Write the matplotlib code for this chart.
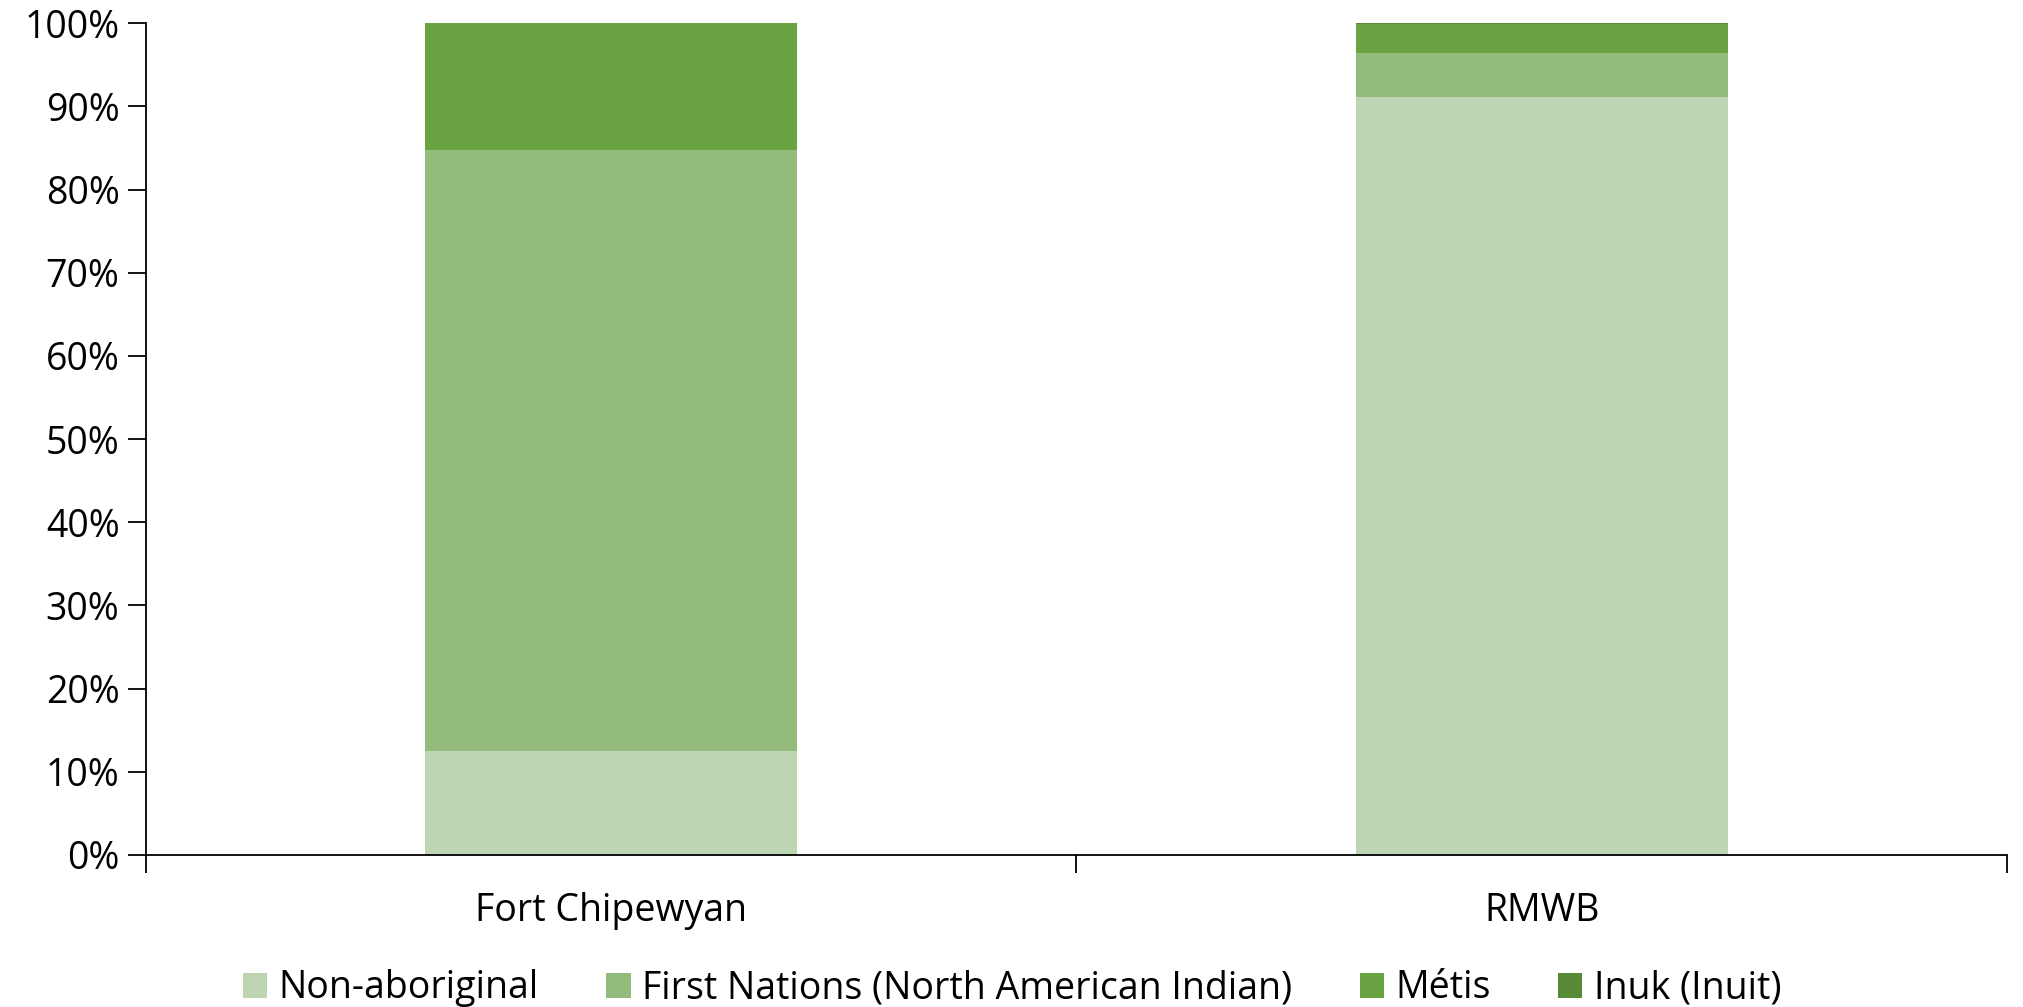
import matplotlib.pyplot as plt
import numpy as np
from matplotlib.ticker import PercentFormatter, FixedLocator

plt.rcParams['font.family'] = ['Open Sans', 'DejaVu Sans']

communities = ['Fort Chipewyan', 'RMWB']
groups = ['Non-aboriginal', 'First Nations (North American Indian)', 'Métis', 'Inuk (Inuit)']
colors = ['#bed5b3', '#93bc7c', '#69a342', '#568a37']

# share of population, percent
non_aboriginal = [12.5, 91.1]
first_nations = [72.2, 5.3]
metis = [15.3, 3.5]
inuk = [0.0, 0.1]

series = [non_aboriginal, first_nations, metis, inuk]

fig = plt.figure(figsize=(20.24, 10.07), dpi=100)
ax = fig.add_axes([0.0721, 0.151, 0.9195, 0.826])

x = np.arange(len(communities))
bottom = np.zeros(len(communities))
for vals, name, col in zip(series, groups, colors):
    ax.bar(x, vals, width=0.4, bottom=bottom, color=col, label=name)
    bottom += np.array(vals)

ax.set_xlim(-0.5, 1.5)
ax.set_ylim(0, 100)
ax.set_yticks(np.arange(0, 101, 10))
ax.yaxis.set_major_formatter(PercentFormatter(decimals=0))
ax.set_xticks(x)
ax.set_xticklabels(communities)
ax.xaxis.set_minor_locator(FixedLocator([-0.5, 0.5, 1.5]))
ax.tick_params(axis='x', which='major', length=0, pad=27, labelsize=27)
ax.tick_params(axis='x', which='minor', length=13, width=1.3, direction='out')
ax.tick_params(axis='y', length=13, width=1.3, direction='out', labelsize=27, pad=6)

for s in ['top', 'right']:
    ax.spines[s].set_visible(False)
ax.spines['left'].set_linewidth(1.3)
ax.spines['bottom'].set_linewidth(1.3)

fig.legend(loc='lower center', bbox_to_anchor=(0.5, -0.034), ncol=4, frameon=False,
           fontsize=27, handlelength=0.65, handleheight=0.65, handletextpad=0.3,
           columnspacing=1.8)

fig.savefig('out.png', dpi=100)
